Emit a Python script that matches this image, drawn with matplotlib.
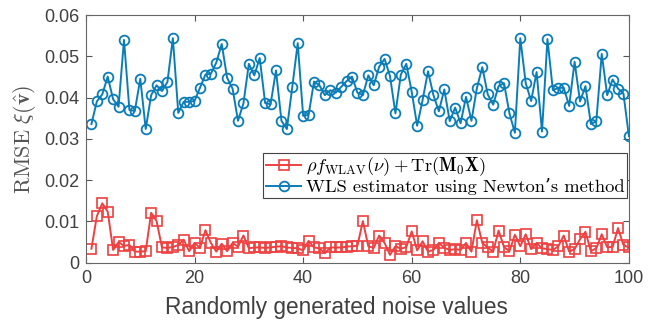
import numpy as np
import matplotlib
matplotlib.use("Agg")
import matplotlib.pyplot as plt

plt.rcParams['mathtext.fontset'] = 'cm'
plt.rcParams['font.family'] = ['Liberation Sans', 'DejaVu Sans']

# indice des réalisations de bruit
runs = np.arange(1, 101)

# RMSE de la méthode proposée (courbe rouge)
rmse_proposed = [
    0.0034, 0.0113, 0.0144, 0.0124, 0.0031, 0.0050, 0.0041, 0.0043, 0.0027, 0.0027,
    0.0028, 0.0121, 0.0101, 0.0037, 0.0036, 0.0038, 0.0043, 0.0056, 0.0028, 0.0048,
    0.0036, 0.0079, 0.0048, 0.0027, 0.0046, 0.0028, 0.0048, 0.0039, 0.0066, 0.0035,
    0.0037, 0.0037, 0.0036, 0.0037, 0.0039, 0.0040, 0.0037, 0.0036, 0.0035, 0.0030,
    0.0053, 0.0037, 0.0035, 0.0023, 0.0037, 0.0037, 0.0037, 0.0039, 0.0040, 0.0041,
    0.0101, 0.0040, 0.0036, 0.0066, 0.0048, 0.0019, 0.0040, 0.0034, 0.0038, 0.0076,
    0.0030, 0.0052, 0.0027, 0.0031, 0.0048, 0.0036, 0.0031, 0.0033, 0.0031, 0.0048,
    0.0027, 0.0103, 0.0048, 0.0037, 0.0027, 0.0078, 0.0038, 0.0028, 0.0068, 0.0040,
    0.0069, 0.0033, 0.0048, 0.0035, 0.0033, 0.0031, 0.0040, 0.0066, 0.0027, 0.0033,
    0.0057, 0.0075, 0.0028, 0.0035, 0.0069, 0.0038, 0.0038, 0.0084, 0.0043, 0.0037,
]

# RMSE de l'estimateur WLS (Newton), courbe bleue
rmse_wls = [
    0.0336, 0.0391, 0.0408, 0.0451, 0.0396, 0.0378, 0.0540, 0.0370, 0.0368, 0.0446,
    0.0324, 0.0406, 0.0430, 0.0416, 0.0438, 0.0544, 0.0363, 0.0390, 0.0390, 0.0392,
    0.0424, 0.0456, 0.0458, 0.0485, 0.0530, 0.0448, 0.0422, 0.0344, 0.0386, 0.0482,
    0.0454, 0.0496, 0.0387, 0.0384, 0.0466, 0.0344, 0.0324, 0.0426, 0.0532, 0.0356,
    0.0358, 0.0439, 0.0430, 0.0406, 0.0418, 0.0412, 0.0426, 0.0440, 0.0451, 0.0412,
    0.0406, 0.0454, 0.0430, 0.0475, 0.0494, 0.0452, 0.0362, 0.0456, 0.0482, 0.0414,
    0.0332, 0.0394, 0.0464, 0.0406, 0.0367, 0.0420, 0.0343, 0.0376, 0.0338, 0.0402,
    0.0344, 0.0423, 0.0474, 0.0408, 0.0383, 0.0428, 0.0435, 0.0362, 0.0315, 0.0544,
    0.0435, 0.0392, 0.0462, 0.0318, 0.0542, 0.0418, 0.0424, 0.0424, 0.0380, 0.0487,
    0.0391, 0.0428, 0.0336, 0.0343, 0.0506, 0.0406, 0.0444, 0.0422, 0.0410, 0.0307,
]

x_ticks = [0, 20, 40, 60, 80, 100]
y_ticks = [0, 0.01, 0.02, 0.03, 0.04, 0.05, 0.06]
y_tick_labels = ['0', '0.01', '0.02', '0.03', '0.04', '0.05', '0.06']

label_proposed = r'$\rho f_{\mathrm{WLAV}}(\nu) + \mathrm{Tr}(\mathbf{M_0X})$'
label_wls = 'WLS estimator using Newton\u2019s method'

fig = plt.figure(figsize=(6.49, 3.22), dpi=100)
ax = fig.add_axes([0.1325, 0.184, 0.8365, 0.769])

ax.plot(runs, rmse_proposed, color='#EE4040', marker='s', markersize=7,
        markerfacecolor='none', markeredgewidth=1.2, linewidth=1.4, label=label_proposed)
ax.plot(runs, rmse_wls, color='#0A7DB8', marker='o', markersize=7,
        markerfacecolor='none', markeredgewidth=1.3, linewidth=1.4, label=label_wls)

ax.set_xlim(0, 100)
ax.set_ylim(0, 0.06)
ax.set_xticks(x_ticks)
ax.set_yticks(y_ticks)
ax.set_yticklabels(y_tick_labels)
ax.tick_params(direction='in', top=True, right=True, length=4, width=0.8,
               colors='#555555', labelcolor='#404040', labelsize=13, pad=5)
for s in ax.spines.values():
    s.set_color('#666666')
    s.set_linewidth(0.8)

ax.set_xlabel('Randomly generated noise values', fontsize=16.3, color='#404040')
ax.xaxis.set_label_coords(0.461, -0.135)
ax.set_ylabel(r'$\mathrm{RMSE}\ \xi(\hat{\mathbf{v}})$', fontsize=16, color='#555555', labelpad=4)

leg = ax.legend(loc='upper right', bbox_to_anchor=(0.997, 0.445), borderaxespad=0,
                fancybox=False, edgecolor='#444444', framealpha=1,
                prop={'family': ['cmr10', 'DejaVu Serif'], 'size': 13.3}, handlelength=1.9,
                borderpad=0.15, labelspacing=0.0, handletextpad=0.25)
leg.get_frame().set_linewidth(0.8)

fig.savefig('out.png', dpi=100)
